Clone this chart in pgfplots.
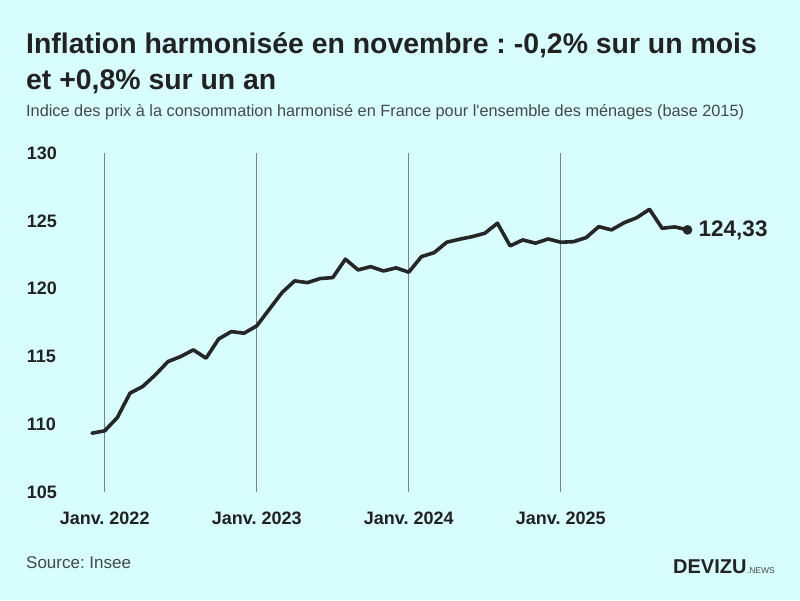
\documentclass[border=0pt]{standalone}
\usepackage{fontspec}
\setmainfont{Liberation Sans}
\usepackage{pgfplots}
\pgfplotsset{compat=1.18}
\definecolor{bgc}{HTML}{D7FDFD}
\definecolor{linec}{HTML}{262626}
\definecolor{gridc}{HTML}{7A8484}
\definecolor{txt}{HTML}{222222}
\definecolor{subc}{HTML}{444848}
\frenchspacing
\begin{document}
\frenchspacing
\begin{tikzpicture}[x=1pt,y=1pt]
\fill[bgc] (0,0) rectangle (800,600);
\node[anchor=base west, inner sep=0, text=txt, font=\bfseries\fontsize{28.4}{34}\selectfont] at (26,546.7) {Inflation harmonisée en novembre : -0,2\% sur un mois};
\node[anchor=base west, inner sep=0, text=txt, font=\bfseries\fontsize{28.4}{34}\selectfont] at (26,510) {et +0,8\% sur un an};
\node[anchor=base west, inner sep=0, text=subc, font=\fontsize{16.3}{18}\selectfont] at (26,483.3) {Indice des prix à la consommation harmonisé en France pour l\textquotesingle ensemble des ménages (base 2015)};
\node[anchor=base west, inner sep=0, text=subc, font=\fontsize{17}{20}\selectfont] at (26,31.7) {Source: Insee};
\node[anchor=base west, inner sep=0, text=txt, font=\bfseries\fontsize{20}{22}\selectfont] (dv) at (673,27) {DEVIZU};
\node[anchor=base west, inner sep=0, text=subc, font=\fontsize{8.5}{10}\selectfont] at (dv.base east) {.NEWS};
\begin{axis}[
  at={(92pt,108pt)}, anchor=south west,
  scale only axis, width=595.5pt, height=339pt,
  xmin=0, xmax=47, ymin=105, ymax=130,
  clip=false,
  axis line style={draw=none},
  major tick length=0pt,
  xtick={1,13,25,37},
  xticklabels={Janv. 2022,Janv. 2023,Janv. 2024,Janv. 2025},
  ytick={105,110,115,120,125,130},
  xmajorgrids,
  major grid style={draw=gridc, line width=1.1pt},
  /pgf/number format/assume math mode=true,
  xticklabel style={anchor=base, inner sep=0pt, yshift=-32.3pt, text=txt, font=\bfseries\fontsize{18}{20}\selectfont},
  yticklabel style={anchor=base west, inner sep=0pt, xshift=-65.3pt, yshift=-6.3pt, text=txt, font=\bfseries\fontsize{18}{20}\selectfont},
]
\addplot[color=linec, line width=3.6pt, line join=round, line cap=round] coordinates {
(0,109.34) (1,109.51) (2,110.49) (3,112.29) (4,112.78) (5,113.64) (6,114.62) (7,114.99) (8,115.48) (9,114.87) (10,116.29) (11,116.83)
(12,116.71) (13,117.25) (14,118.48) (15,119.71) (16,120.57) (17,120.44) (18,120.74) (19,120.81) (20,122.17) (21,121.38) (22,121.62) (23,121.30)
(24,121.53) (25,121.21) (26,122.36) (27,122.65) (28,123.42) (29,123.64) (30,123.83) (31,124.08) (32,124.82) (33,123.15) (34,123.59) (35,123.35)
(36,123.66) (37,123.42) (38,123.46) (39,123.76) (40,124.57) (41,124.33) (42,124.86) (43,125.23) (44,125.85) (45,124.45) (46,124.55) (47,124.33)
};
\addplot[only marks, mark=*, mark size=4.6pt, color=linec] coordinates {(47,124.33)};
\node[anchor=west, inner sep=0pt, xshift=11pt, text=txt, font=\bfseries\fontsize{22.5}{24}\selectfont] at (axis cs:47,124.33) {124,33};
\end{axis}
\end{tikzpicture}
\end{document}
